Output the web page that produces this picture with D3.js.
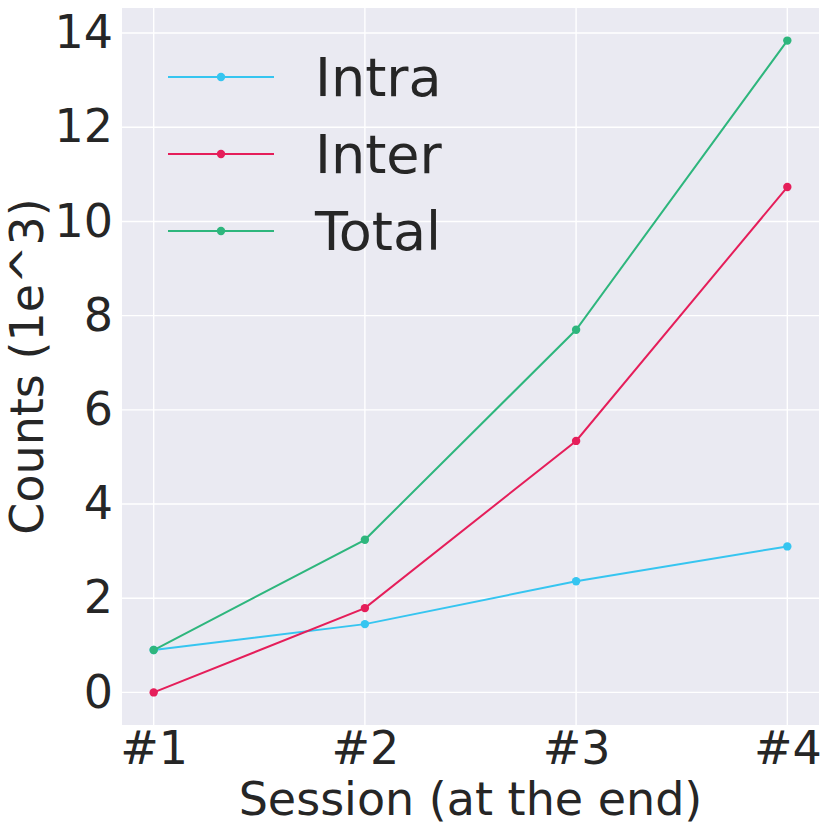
<!DOCTYPE html>
<html>
<head>
<meta charset="utf-8">
<script src="https://cdn.jsdelivr.net/npm/d3@7"></script>
<style>
    body { margin: 0; background: #fff; }
    svg { display: block; font-family: "DejaVu Sans", sans-serif; }
</style>
</head>
<body>
<svg id="chart" width="830" height="833"></svg>
<script>
// sessions and counts (in 1e3)
const sessions = ["#1", "#2", "#3", "#4"];
const intra = [0.90, 1.45, 2.36, 3.10];
const inter = [0.00, 1.79, 5.34, 10.73];
const total = [0.90, 3.24, 7.70, 13.84];
const yTicks = [0, 2, 4, 6, 8, 10, 12, 14];

const seriesNames = ["Intra", "Inter", "Total"];
const seriesColors = ["#36C5F0", "#E51E5A", "#2EB67D"];
const seriesValues = [intra, inter, total];

const svg = d3.select("#chart");
const margin = {top: 8, right: 11, bottom: 108, left: 122};
const width = 830 - margin.left - margin.right;
const height = 833 - margin.top - margin.bottom;

const g = svg.append("g").attr("transform", `translate(${margin.left},${margin.top})`);

// matplotlib-like 5% margins
const x = d3.scaleLinear().domain([-0.15, sessions.length - 1 + 0.15]).range([0, width]);
const yMax = d3.max(total), yMin = 0;
const pad = (yMax - yMin) * 0.05;
const y = d3.scaleLinear().domain([yMin - pad, yMax + pad]).range([height, 0]);

// background
g.append("rect").attr("width", width).attr("height", height).attr("fill", "#EAEAF2");

// grid
g.append("g").selectAll("line").data(yTicks).enter().append("line")
    .attr("x1", 0).attr("x2", width)
    .attr("y1", d => y(d)).attr("y2", d => y(d))
    .attr("stroke", "#fff").attr("stroke-width", 1.4);
g.append("g").selectAll("line").data(sessions).enter().append("line")
    .attr("y1", 0).attr("y2", height)
    .attr("x1", (d, i) => x(i)).attr("x2", (d, i) => x(i))
    .attr("stroke", "#fff").attr("stroke-width", 1.4);

// axes (no domain lines, no tick marks)
const axisY = g.append("g").call(d3.axisLeft(y).tickValues(yTicks).tickSize(0).tickPadding(9));
axisY.select(".domain").remove();
axisY.selectAll("text").attr("font-size", 46).attr("fill", "#262626")
    .attr("font-family", "DejaVu Sans");

const axisX = g.append("g").attr("transform", `translate(0,${height})`)
    .call(d3.axisBottom(x).tickValues(d3.range(sessions.length)).tickFormat(i => sessions[i]).tickSize(0).tickPadding(6));
axisX.select(".domain").remove();
axisX.selectAll("text").attr("font-size", 46).attr("fill", "#262626")
    .attr("font-family", "DejaVu Sans").attr("dy", "0.71em");

// axis labels
svg.append("text")
    .attr("x", margin.left + width / 2).attr("y", 815)
    .attr("text-anchor", "middle").attr("font-size", 46).attr("fill", "#262626")
    .text("Session (at the end)");
svg.append("text")
    .attr("transform", `translate(43,${margin.top + height / 2}) rotate(-90)`)
    .attr("text-anchor", "middle").attr("font-size", 46).attr("fill", "#262626")
    .text("Counts (1e^3)");

// lines + markers
const line = d3.line().x((d, i) => x(i)).y(d => y(d));
seriesValues.forEach((vals, k) => {
    g.append("path").datum(vals)
        .attr("fill", "none").attr("stroke", seriesColors[k]).attr("stroke-width", 2)
        .attr("d", line);
    g.append("g").selectAll("circle").data(vals).enter().append("circle")
        .attr("cx", (d, i) => x(i)).attr("cy", d => y(d)).attr("r", 4.2)
        .attr("fill", seriesColors[k]);
});

// legend
const legend = svg.append("g");
seriesNames.forEach((name, k) => {
    const ly = 77 + k * 77;
    legend.append("line").attr("x1", 168).attr("x2", 274).attr("y1", ly).attr("y2", ly)
        .attr("stroke", seriesColors[k]).attr("stroke-width", 2);
    legend.append("circle").attr("cx", 221).attr("cy", ly).attr("r", 4.2).attr("fill", seriesColors[k]);
    legend.append("text").attr("x", 315).attr("y", ly + 19)
        .attr("font-size", 54).attr("fill", "#262626").text(name);
});
</script>
</body>
</html>
